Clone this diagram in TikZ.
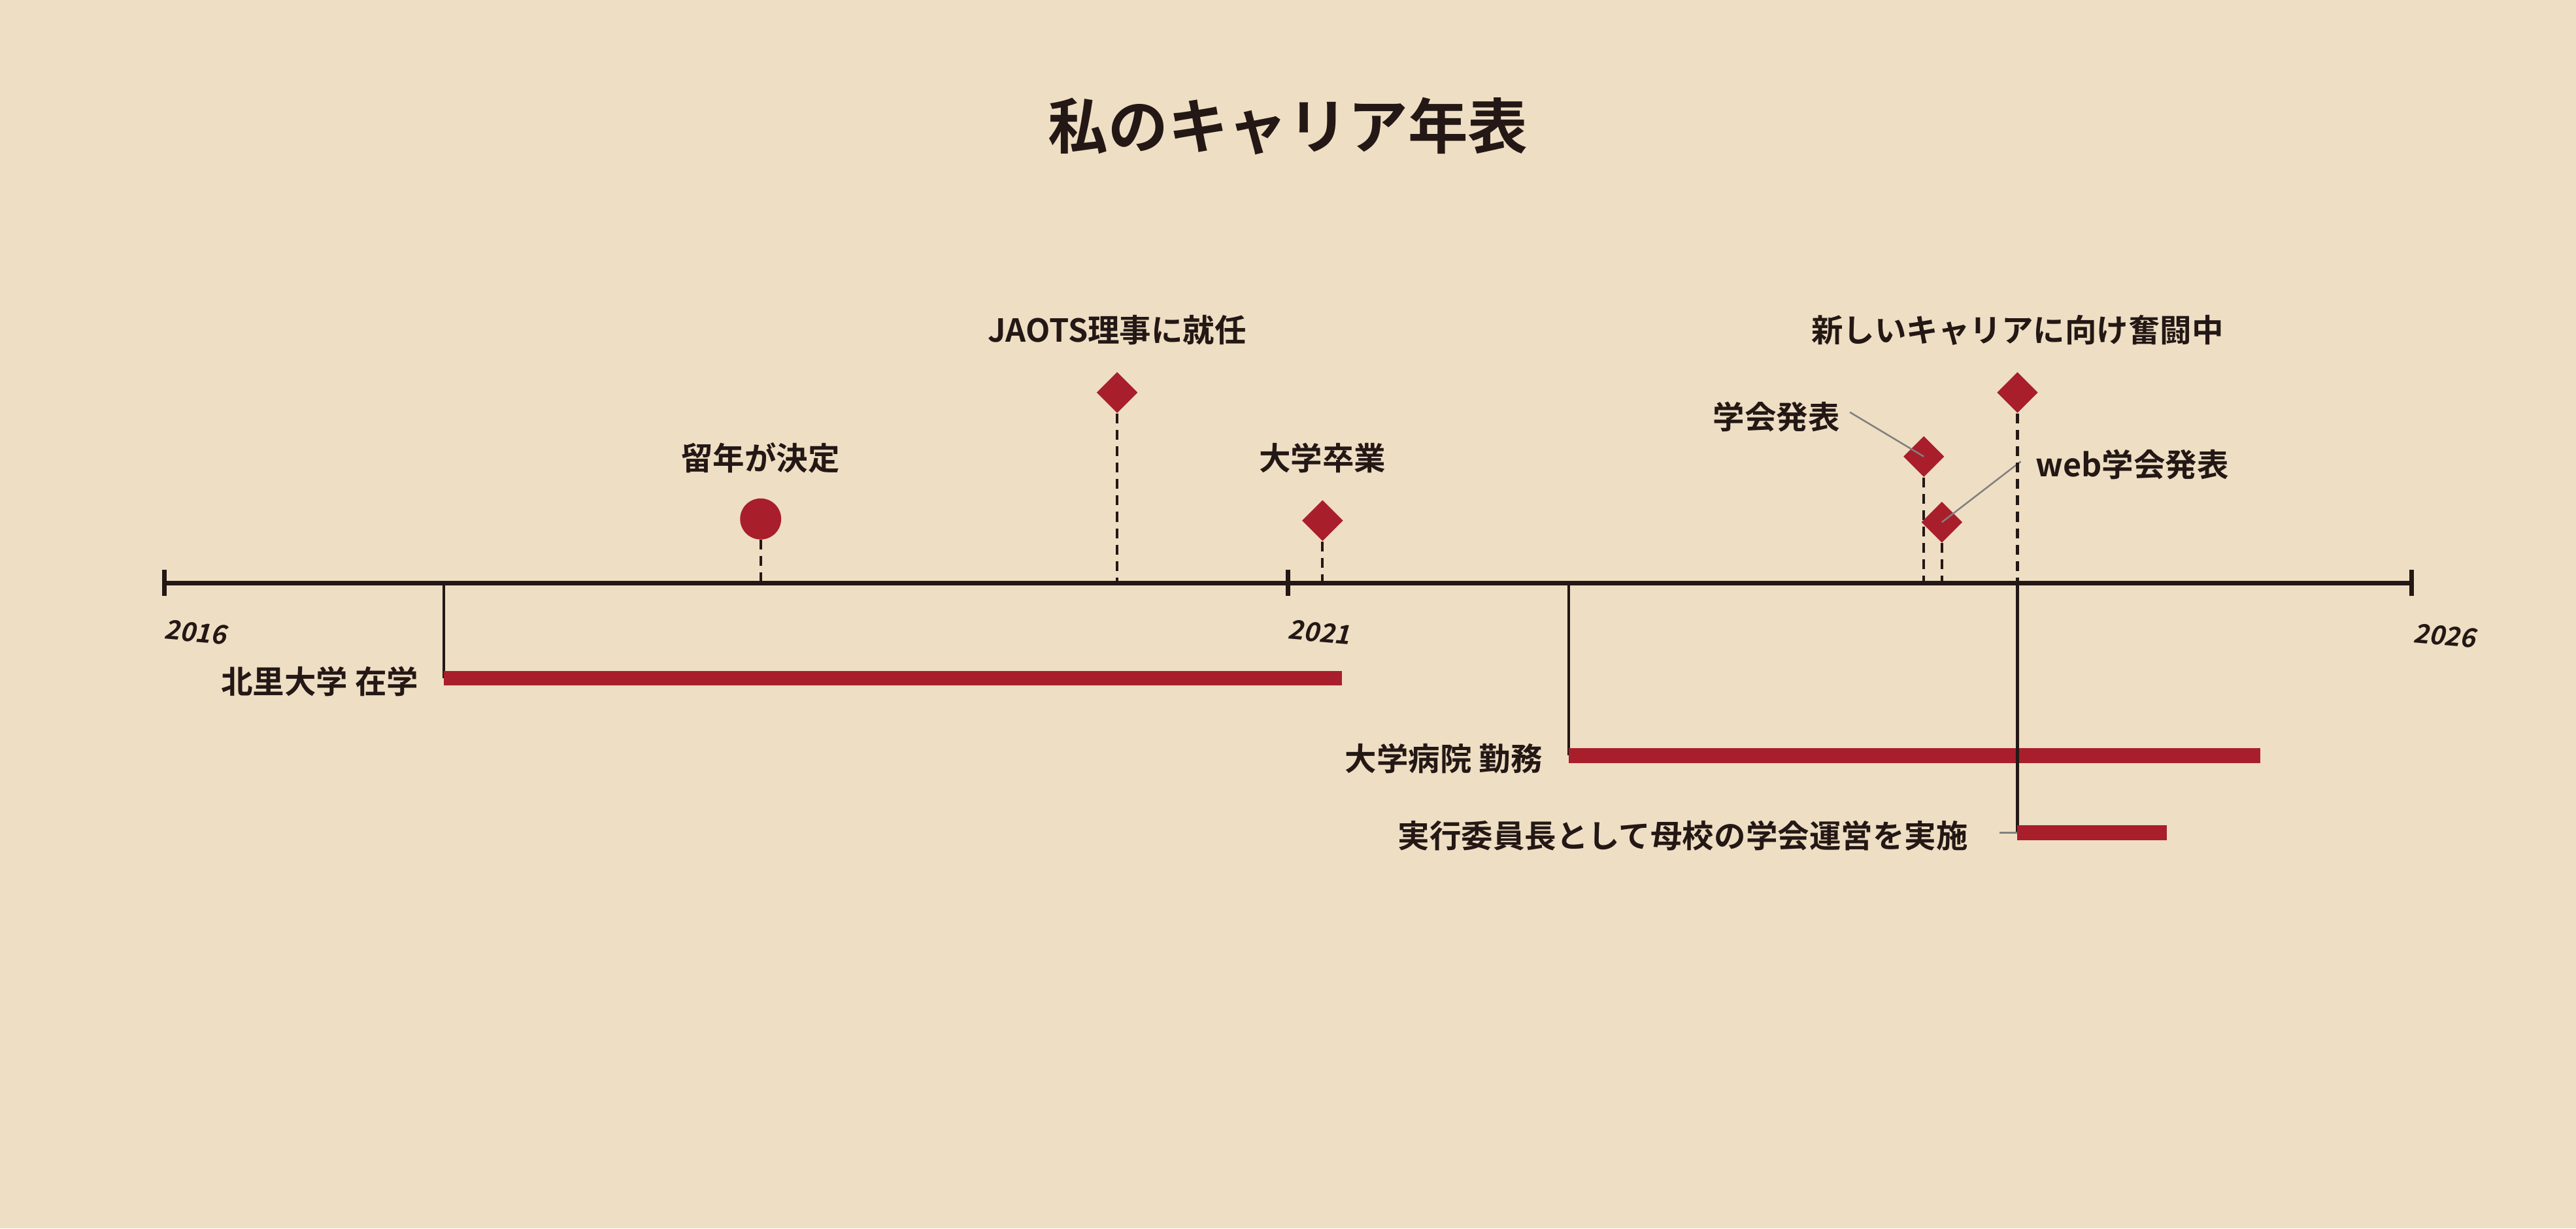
\documentclass[tikz,border=0pt]{standalone}
\usepackage{fontspec}
\newfontfamily\jp{Noto Sans CJK JP}[BoldFont={* Bold}]
\newfontfamily\jpsl{Noto Sans CJK JP Bold}[FakeSlant=0.2]
\definecolor{bg}{HTML}{EEDEC3}
\definecolor{rd}{HTML}{A91E2B}
\definecolor{dk}{HTML}{231815}
\usetikzlibrary{shapes.geometric}
\begin{document}
\begin{tikzpicture}[x=1pt,y=-1pt,
  lbl/.style={font=\jp\bfseries\fontsize{19.3}{21}\selectfont,text=dk,inner sep=0},
  yr/.style={font=\jpsl\fontsize{16}{18}\selectfont,text=dk,inner sep=0,rotate=-5},
  dia/.style={diamond,fill=rd,minimum size=25pt,inner sep=0},
  stem/.style={dash pattern=on 6pt off 4pt,line width=1.6pt,dk},
  lead/.style={gray,line width=1pt},
  bar/.style={rd,line width=9pt},
  vl/.style={dk,line width=1.6pt}]
\fill[bg] (0,0) rectangle (1568,748);
\useasboundingbox (0,0) rectangle (1568,748);
\node[font=\jp\bfseries\fontsize{36.5}{40}\selectfont,text=dk] (title) at (784,77) {私のキャリア年表};
% axis
\coordinate (a0) at (100,355); \coordinate (a1) at (784,355); \coordinate (a2) at (1468,355);
\draw[dk,line width=3pt] (a0) -- (a2);
\foreach \x in {100,784,1468} \draw[dk,line width=3pt] (\x,347) -- (\x,363);
\node[yr] (y1) at (119,385) {2016};
\node[yr] (y2) at (803,385) {2021};
\node[yr] (y3) at (1488,387) {2026};
% events
\node[circle,fill=rd,minimum size=25pt,inner sep=0] (c1) at (463,316) {};
\coordinate (c1b) at (463,354);
\draw[stem] (c1.south) -- (c1b);
\node[lbl] (l1) at (463,279) {留年が決定};
\node[dia] (d1) at (680,239) {};
\coordinate (d1b) at (680,354);
\draw[stem] (d1.south) -- (d1b);
\node[lbl] (l2) at (680,201) {JAOTS理事に就任};
\node[dia] (d2) at (805,317) {};
\coordinate (d2b) at (805,354);
\draw[stem] (d2.south) -- (d2b);
\node[lbl] (l3) at (805,279) {大学卒業};
\node[dia] (d3) at (1171,278) {};
\coordinate (d3b) at (1171,354);
\draw[stem] (d3.south) -- (d3b);
\node[lbl,anchor=east] (l4) at (1120,254) {学会発表};
\draw[lead] (1126,251) -- (d3.center);
\node[dia] (d4) at (1182,318) {};
\coordinate (d4b) at (1182,354);
\draw[stem] (d4.south) -- (d4b);
\node[lbl,anchor=west] (l5) at (1239,283) {web学会発表};
\draw[lead] (1230,281) -- (d4.center);
\node[dia] (d5) at (1228,239) {};
\coordinate (d5b) at (1228,354);
\draw[stem] (d5.south) -- (d5b);
\node[lbl] (l6) at (1228,201) {新しいキャリアに向け奮闘中};
% periods
\coordinate (p1) at (270,413); \coordinate (p1e) at (817,413);
\draw[vl] (270,355) -- (p1);
\draw[bar] (p1) -- (p1e);
\node[lbl,anchor=east] (b1) at (255,415) {北里大学 在学};
\coordinate (p2) at (955,460); \coordinate (p2e) at (1376,460);
\draw[vl] (955,355) -- (p2);
\draw[bar] (p2) -- (p2e);
\node[lbl,anchor=east] (b2) at (939,462) {大学病院 勤務};
\coordinate (p3) at (1228,507); \coordinate (p3e) at (1319,507);
\draw[vl] (1228,355) -- (p3);
\draw[bar] (p3) -- (p3e);
\node[lbl,anchor=east] (b3) at (1198,509) {実行委員長として母校の学会運営を実施};
\draw[lead] (1217,507) -- (p3);
\end{tikzpicture}
\end{document}
